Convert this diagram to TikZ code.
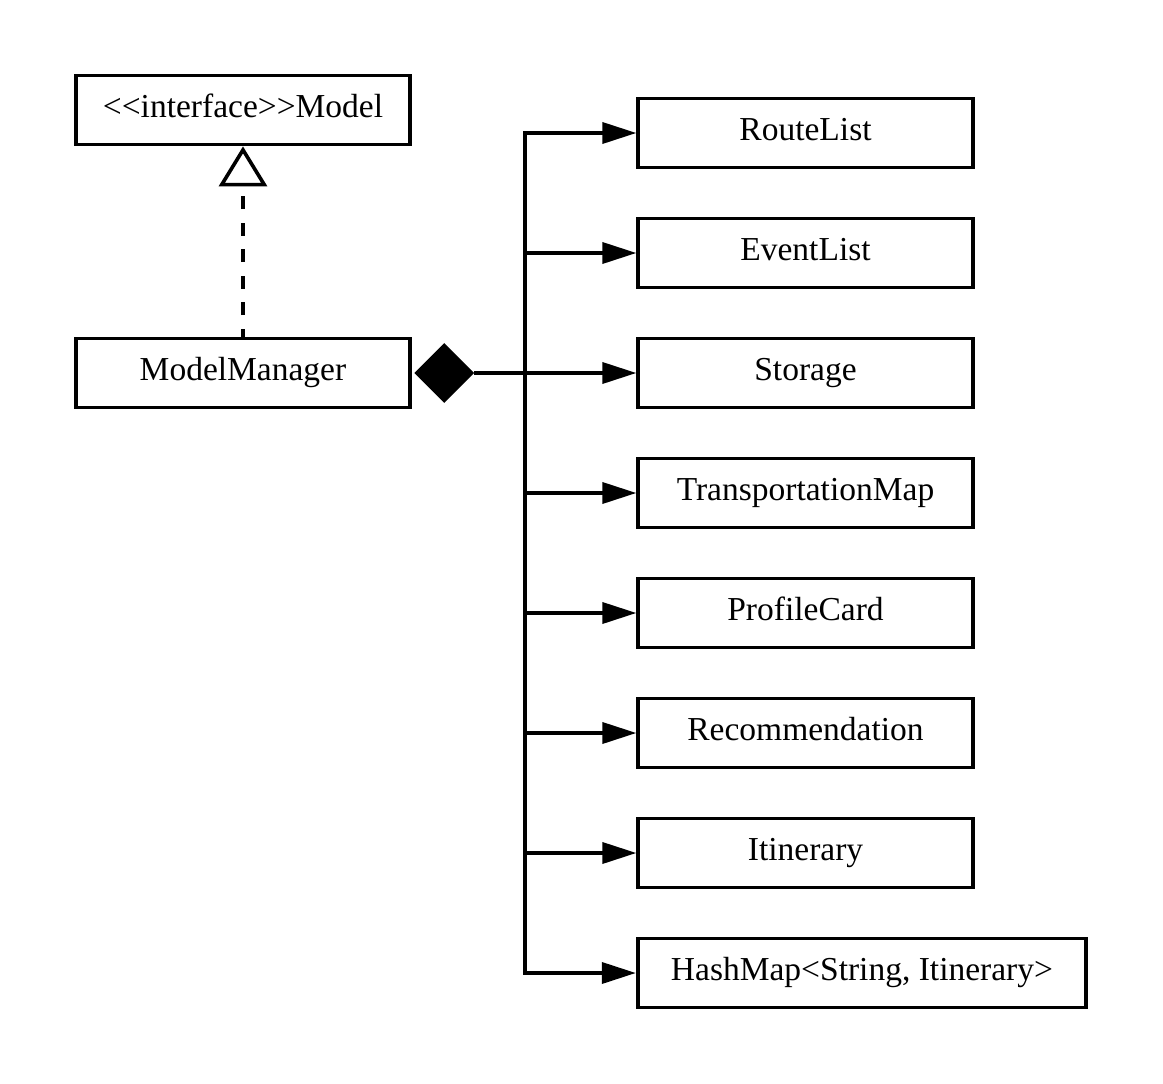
\documentclass[tikz,border=0pt]{standalone}
\usepackage{fontspec}
\setmainfont{Liberation Serif}
\usetikzlibrary{arrows.meta,shapes.geometric}
\begin{document}
\begin{tikzpicture}[x=1pt,y=-1pt,
  cls/.style={draw,line width=3.8pt,inner sep=0pt,minimum height=69pt,
    text height=22pt,text depth=8pt,font=\fontsize{33.5}{40}\selectfont},
  wbox/.style={cls,minimum width=334.5pt},
  hbox/.style={cls,minimum width=448.5pt},
  conn/.style={line width=3.6pt,-{Triangle[length=34pt,width=21pt]}},
  real/.style={line width=3.6pt,dash pattern=on 13pt off 13.5pt,dash phase=5pt,
    -{Triangle[open,length=40pt,width=48pt]}}]
\useasboundingbox (0,0) rectangle (1163,1084);
\node[wbox] (model) at (243,110) {{<}{<}interface{>}{>}Model};
\node[wbox] (mm) at (243,373) {ModelManager};
\node[diamond,fill=black,inner sep=0pt,minimum width=60pt,minimum height=60pt,anchor=west] (dia) at (414,373) {};
\node[wbox] (rl) at (805.5,133) {RouteList};
\node[wbox] (el) at (805.5,253) {EventList};
\node[wbox] (st) at (805.5,373) {Storage};
\node[wbox] (tm) at (805.5,493) {TransportationMap};
\node[wbox] (pc) at (805.5,613) {ProfileCard};
\node[wbox] (rc) at (805.5,733) {Recommendation};
\node[wbox] (it) at (805.5,853) {Itinerary};
\node[hbox] (hm) at (862,973) {HashMap<String, Itinerary>};
\coordinate (j) at (525,373);
\draw[real] (mm.north) -- (model.south);
\draw[line width=3.6pt] (dia.east) -- (j);
\foreach \t in {rl,el,st,tm,pc,rc,it,hm}{
  \draw[conn] (j) |- (\t.west);
}
\end{tikzpicture}
\end{document}
